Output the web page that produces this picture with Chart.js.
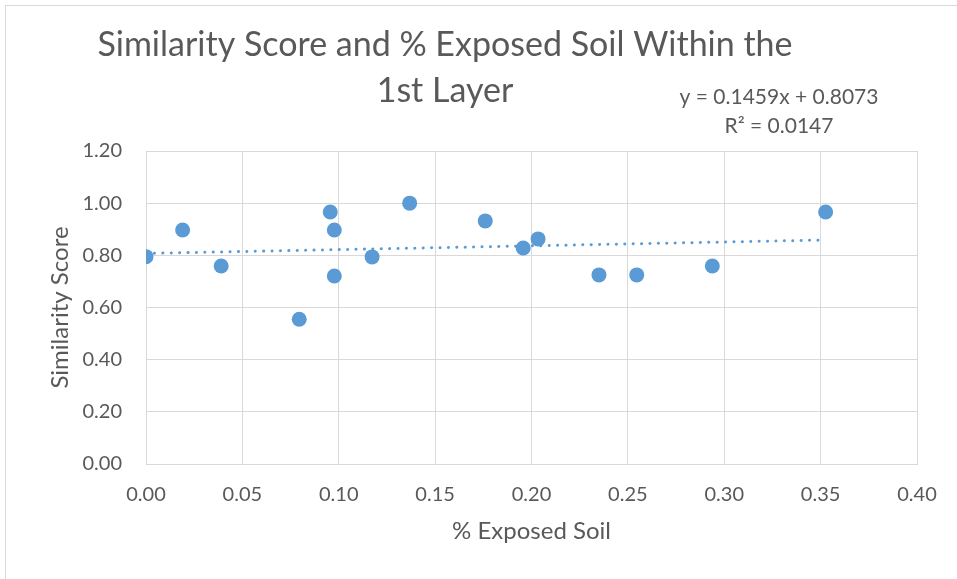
<!DOCTYPE html>
<html>
<head>
<meta charset="utf-8">
<script src="https://cdn.jsdelivr.net/npm/chart.js@4.4.1/dist/chart.umd.min.js"></script>
<style>
  html, body { margin: 0; padding: 0; background: #ffffff; }
  #wrap { width: 957px; height: 579px; position: relative; }
</style>
</head>
<body>
<div id="wrap"><canvas id="c" width="957" height="579"></canvas></div>
<script>
// ---- Data ----
const exposedSoil = [0.000, 0.019, 0.039, 0.0795, 0.0956, 0.0977, 0.0977, 0.1173, 0.1368, 0.176, 0.1957, 0.2034, 0.235, 0.2546, 0.2938, 0.3526];
const similarity  = [0.795, 0.897, 0.759, 0.555, 0.966, 0.897, 0.721, 0.794, 1.000, 0.932, 0.828, 0.863, 0.725, 0.725, 0.759, 0.966];
const trendX = [0.000, 0.3526];
const trendY = [0.8073, 0.8587];
const titleLines = ['Similarity Score and % Exposed Soil Within the', '1st Layer'];
const equationLines = ['y = 0.1459x + 0.8073', 'R² = 0.0147'];
const xAxisTitle = '% Exposed Soil';
const yAxisTitle = 'Similarity Score';

const FONT = "Lato, 'Open Sans', sans-serif";
const TXT = '#595959';
const BLUE = '#5B9BD5';
const GRID = '#D9D9D9';

const pts = exposedSoil.map((x, i) => ({ x: x, y: similarity[i] }));
const trend = trendX.map((x, i) => ({ x: x, y: trendY[i] }));

const decor = {
  id: 'decor',
  beforeDraw(chart) {
    const ctx = chart.ctx;
    ctx.save();
    ctx.strokeStyle = GRID;
    ctx.lineWidth = 1;
    ctx.strokeRect(5.5, 5.5, 1000, 1000);
    ctx.restore();
  },
  afterDraw(chart) {
    const ctx = chart.ctx;
    ctx.save();
    ctx.fillStyle = TXT;
    ctx.textAlign = 'center';
    ctx.textBaseline = 'middle';
    ctx.font = '34px ' + FONT;
    ctx.fillText(titleLines[0], 445, 45);
    ctx.fillText(titleLines[1], 445, 91);
    ctx.font = '21px ' + FONT;
    ctx.fillText(equationLines[0], 779, 97);
    ctx.fillText(equationLines[1], 779, 126);
    ctx.restore();
  }
};

new Chart(document.getElementById('c'), {
  type: 'scatter',
  data: {
    datasets: [
      {
        label: 'Similarity',
        data: pts,
        backgroundColor: BLUE,
        borderColor: BLUE,
        pointRadius: 7.5,
        pointHoverRadius: 7.5,
        borderWidth: 0,
        order: 1
      },
      {
        label: 'Linear trend',
        type: 'line',
        data: trend,
        showLine: true,
        borderColor: BLUE,
        borderWidth: 3,
        borderDash: [0.1, 8.3],
        borderCapStyle: 'round',
        pointRadius: 0,
        fill: false,
        order: 2
      }
    ]
  },
  options: {
    responsive: false,
    animation: false,
    devicePixelRatio: 1,
    layout: { padding: { left: 0, right: 40, top: 151, bottom: 0 } },
    plugins: {
      legend: { display: false },
      title: { display: false },
      tooltip: { enabled: false }
    },
    scales: {
      x: {
        type: 'linear',
        min: 0, max: 0.4,
        afterFit(s) { s.height = 115; },
        border: { color: GRID, width: 1 },
        grid: { color: GRID, lineWidth: 1, drawTicks: false },
        ticks: {
          stepSize: 0.05,
          padding: 19,
          color: TXT,
          font: { family: FONT, size: 20 },
          callback: v => v.toFixed(2),
          maxRotation: 0
        },
        title: {
          display: true,
          text: xAxisTitle,
          color: TXT,
          font: { family: FONT, size: 24 },
          padding: { top: 0, bottom: 33 }
        }
      },
      y: {
        type: 'linear',
        min: 0, max: 1.2,
        afterFit(s) { s.width = 146; },
        border: { color: GRID, width: 1 },
        grid: { color: GRID, lineWidth: 1, drawTicks: false },
        ticks: {
          stepSize: 0.2,
          padding: 24,
          color: TXT,
          font: { family: FONT, size: 20 },
          callback: v => v.toFixed(2)
        },
        title: {
          display: true,
          text: yAxisTitle,
          color: TXT,
          font: { family: FONT, size: 24 },
          padding: { top: 46, bottom: 0 }
        }
      }
    }
  },
  plugins: [decor]
});
</script>
</body>
</html>
